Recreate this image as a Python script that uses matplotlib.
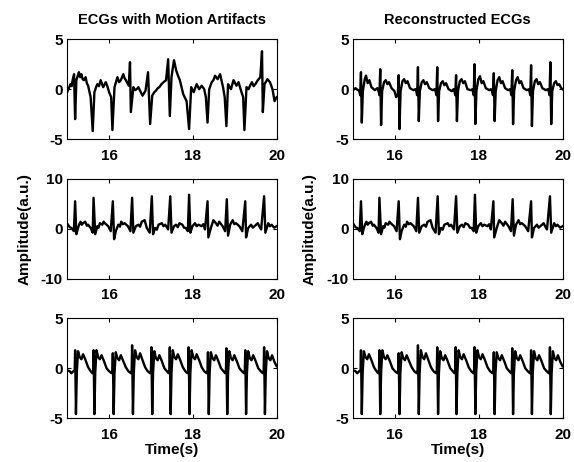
import matplotlib
matplotlib.use("Agg")
import matplotlib.pyplot as plt

plt.rcParams['font.family'] = ['Liberation Sans', 'DejaVu Sans']
plt.rcParams['font.weight'] = 'bold'
plt.rcParams['font.size'] = 11
plt.rcParams['axes.unicode_minus'] = False

# ECG with motion artifacts (top left)
t_noisy = [15.00, 15.04, 15.08, 15.11, 15.13, 15.165, 15.19, 15.22, 15.25, 15.28, 15.31, 15.34, 15.37,
           15.40, 15.44, 15.47, 15.50, 15.56,
           15.61, 15.65, 15.69, 15.72, 15.76, 15.80, 15.86, 15.92, 15.96, 16.00, 16.05, 16.08, 16.13,
           16.20, 16.24, 16.28, 16.34, 16.37, 16.40, 16.47, 16.50, 16.52, 16.58, 16.62, 16.66, 16.70,
           16.74, 16.80, 16.87, 16.93, 16.98, 17.03, 17.08, 17.12, 17.16, 17.20, 17.25, 17.30, 17.36,
           17.41, 17.45, 17.49, 17.52, 17.55, 17.60, 17.65, 17.69, 17.73, 17.77, 17.85, 17.91, 17.96,
           18.02, 18.09, 18.15, 18.21, 18.27, 18.31, 18.35, 18.39, 18.45, 18.49, 18.53, 18.59, 18.65,
           18.72, 18.76, 18.80, 18.84, 18.88, 18.91, 18.97, 19.04, 19.09, 19.15, 19.20, 19.23, 19.28,
           19.33, 19.37, 19.41, 19.45, 19.49, 19.55, 19.61, 19.65, 19.67, 19.71, 19.78, 19.84, 19.90,
           19.95, 20.00]
y_noisy = [-0.3, 0.1, 0.5, 0.3, 0.9, 1.5, -3.0, 0.9, 1.3, 1.7, 1.2, 1.5, 1.0,
           0.9, 1.2, 0.6, 0.35, -0.8,
           -4.2, -0.3, 0.2, 0.5, 0.3, 0.9, 0.2, 0.7, 0.3, -0.3, -0.8, -4.1, 0.2,
           1.2, 0.7, 0.9, 1.5, 1.1, 0.9, 0.35, 2.7, -2.3, 0.2, -0.1, 0.0, 0.2,
           -0.15, -0.65, -0.15, 1.7, -3.5, -0.65, -0.3, -0.15, 0.1, 0.2, 0.5, 0.7, 0.9,
           3.0, -2.7, 1.2, 2.1, 2.9, 1.9, 1.3, 0.9, 0.2, -0.5, -1.2, -4.0, 0.2,
           -0.3, 0.5, 0.0, 0.35, 0.0, -0.8, -3.35, 0.0, 0.7, 0.9, 1.35, 1.0, 1.5,
           0.2, -0.8, -3.7, 0.5, 0.2, 0.0, 0.9, 0.35, 0.7, -0.15, -0.8, -4.1, 0.2,
           0.0, 0.4, 0.7, 0.3, 0.5, 0.9, 1.2, 3.8, -2.3, 0.5, 1.0, 0.7, 0.0,
           -1.2, -0.8]

# reconstructed ECG (top right)
t_clean = [15.00, 15.06, 15.12,
           15.15, 15.17, 15.19, 15.21, 15.235, 15.28, 15.31, 15.35, 15.39, 15.44, 15.52, 15.58,
           15.61, 15.63, 15.65, 15.67, 15.695, 15.74, 15.78, 15.82, 15.86, 15.92, 15.99, 16.03,
           16.07, 16.09, 16.11, 16.135, 16.18, 16.22, 16.26, 16.30, 16.36, 16.44, 16.49,
           16.51, 16.53, 16.55, 16.57, 16.595, 16.64, 16.68, 16.72, 16.76, 16.82, 16.90, 16.95,
           16.97, 16.99, 17.01, 17.03, 17.055, 17.10, 17.14, 17.18, 17.22, 17.28, 17.36, 17.40,
           17.42, 17.44, 17.46, 17.48, 17.505, 17.55, 17.59, 17.63, 17.67, 17.73, 17.81, 17.85,
           17.86, 17.88, 17.90, 17.92, 17.945, 17.99, 18.03, 18.07, 18.11, 18.17, 18.25, 18.29,
           18.32, 18.34, 18.36, 18.38, 18.405, 18.45, 18.49, 18.53, 18.57, 18.63, 18.70, 18.75,
           18.76, 18.78, 18.80, 18.82, 18.845, 18.89, 18.93, 18.97, 19.01, 19.07, 19.15, 19.20,
           19.21, 19.23, 19.25, 19.27, 19.295, 19.34, 19.38, 19.42, 19.46, 19.52, 19.60, 19.65,
           19.67, 19.69, 19.71, 19.73, 19.755, 19.80, 19.84, 19.88, 19.92, 19.97, 20.00]
y_clean = [-0.1, 0.1, -0.1,
           -0.2, -0.6, 1.7, -3.35, -0.2, 1.0, 1.36, 0.6, 0.9, 0.2, -0.1, 0.1,
           -0.2, -0.6, 2.0, -3.6, -0.2, 0.7, 0.9, 0.5, 0.7, 0.1, -0.2, -0.8,
           -0.5, 1.4, -4.0, -0.2, 0.8, 1.0, 0.6, 0.8, 0.1, -0.1, 0.0,
           -0.2, -0.6, 2.2, -3.2, -0.2, 0.7, 0.9, 0.5, 0.7, 0.1, -0.1, 0.0,
           -0.2, -0.6, 2.2, -3.2, -0.2, 0.6, 0.8, 0.4, 0.6, 0.0, -0.2, 0.0,
           -0.2, -0.6, 1.4, -3.2, -0.2, 0.8, 1.0, 0.6, 0.8, 0.0, -0.1, 0.0,
           -0.2, -0.6, 2.5, -3.5, -0.2, 1.0, 1.3, 0.6, 0.8, 0.1, -0.1, 0.0,
           -0.2, -0.6, 1.6, -3.2, -0.2, 0.9, 1.2, 0.6, 0.8, 0.1, -0.1, 0.0,
           -0.2, -0.6, 1.9, -3.5, -0.2, 0.9, 1.2, 0.6, 0.8, 0.1, -0.1, 0.0,
           -0.2, -0.6, 2.4, -3.7, -0.2, 0.8, 1.0, 0.5, 0.7, 0.1, -0.1, 0.0,
           -0.2, -0.6, 2.7, -3.5, -0.2, 0.6, 0.8, 0.4, 0.5, 0.1, 0.0]

# middle row (same trace both sides)
t_mid = [15.02, 15.06, 15.10, 15.16, 15.19, 15.22, 15.26, 15.29, 15.32, 15.35, 15.38, 15.43, 15.47,
         15.50, 15.56, 15.61, 15.63, 15.67, 15.72, 15.75, 15.78, 15.84, 15.87, 15.90, 15.98, 16.04,
         16.09, 16.12, 16.16, 16.22, 16.26, 16.29, 16.33, 16.37, 16.45, 16.51,
         16.55, 16.58, 16.64, 16.70, 16.74, 16.78, 16.85, 16.90, 16.97,
         17.02, 17.05, 17.10, 17.14, 17.18, 17.26, 17.30, 17.34, 17.41,
         17.46, 17.49, 17.55, 17.60, 17.64, 17.68, 17.75, 17.79, 17.83, 17.88,
         17.91, 17.94, 17.99, 18.05, 18.09, 18.13, 18.21, 18.25, 18.29,
         18.35, 18.37, 18.43, 18.49, 18.55, 18.59, 18.63, 18.71, 18.77,
         18.81, 18.84, 18.89, 18.95, 18.99, 19.03, 19.11, 19.18,
         19.25, 19.27, 19.32, 19.39, 19.43, 19.47, 19.55, 19.59, 19.63,
         19.70, 19.73, 19.80, 19.84, 19.88, 19.94, 20.00]
y_mid = [0.8, 0.3, 0.15, -0.5, 5.5, -1.1, 0.15, 0.9, 1.4, 0.8, 1.1, 1.4, 0.6,
         0.8, 0.15, -0.8, 6.2, -1.1, 0.5, 0.2, 1.1, 0.8, 1.4, 1.1, 0.5, -0.5,
         5.5, -2.1, -0.5, 0.8, 0.4, 1.4, 0.9, 1.1, 0.5, -0.5,
         6.2, -0.8, 0.5, 0.8, 0.4, 1.4, 1.7, 0.15, -0.8,
         6.5, -1.1, 0.15, -0.2, 0.8, 1.1, 0.5, 0.8, -0.15,
         6.5, -0.8, 0.5, 0.8, 0.3, 1.1, 0.8, 0.2, 0.15, -0.5,
         6.8, -0.8, 0.5, 1.1, 0.5, 0.8, 0.5, 0.9, -0.15,
         5.5, -1.75, 0.15, 1.7, 1.1, 0.6, 1.4, 0.5, -0.5,
         5.9, -1.4, 0.8, 1.7, 0.9, 1.1, 0.5, -0.5,
         5.5, -1.75, 0.15, 0.8, 0.2, 0.5, 1.1, 0.4, -0.15,
         6.5, -0.8, 1.1, 0.5, 0.8, 0.2, 0.5]

# bottom row (same trace both sides)
t_bot = [15.00, 15.06, 15.10, 15.15,
         15.18, 15.19, 15.21, 15.23, 15.26, 15.30, 15.34, 15.38, 15.44, 15.50, 15.56, 15.60,
         15.62, 15.63, 15.65, 15.67, 15.70, 15.74, 15.78, 15.82, 15.88, 15.94, 16.00, 16.06,
         16.08, 16.09, 16.11, 16.13, 16.16, 16.20, 16.24, 16.28, 16.34, 16.40, 16.46, 16.52,
         16.54, 16.55, 16.57, 16.59, 16.62, 16.66, 16.70, 16.74, 16.80, 16.86, 16.92, 16.98,
         17.00, 17.01, 17.03, 17.05, 17.08, 17.12, 17.16, 17.20, 17.26, 17.32, 17.38, 17.42,
         17.44, 17.45, 17.47, 17.49, 17.52, 17.56, 17.60, 17.64, 17.70, 17.76, 17.82, 17.87,
         17.89, 17.90, 17.92, 17.94, 17.97, 18.01, 18.05, 18.09, 18.15, 18.21, 18.27, 18.33,
         18.35, 18.36, 18.38, 18.40, 18.43, 18.47, 18.51, 18.55, 18.61, 18.67, 18.73, 18.77,
         18.79, 18.80, 18.82, 18.84, 18.87, 18.91, 18.95, 18.99, 19.05, 19.11, 19.17, 19.22,
         19.24, 19.25, 19.27, 19.29, 19.32, 19.36, 19.40, 19.44, 19.50, 19.56, 19.62, 19.67,
         19.69, 19.70, 19.72, 19.74, 19.77, 19.81, 19.85, 19.89, 19.95, 20.00]
y_bot = [-0.2, -0.3, -0.5, -0.3,
         -0.2, 1.8, -4.6, -0.5, 1.7, 1.1, 0.9, 1.4, 0.8, 0.1, -0.3, -0.5,
         -0.2, 1.8, -4.6, -0.5, 1.8, 1.1, 0.9, 1.3, 0.7, 0.0, -0.3, -0.5,
         -0.2, 1.5, -4.6, -0.5, 1.6, 1.0, 0.8, 1.3, 0.7, 0.1, -0.3, -0.5,
         -0.2, 2.3, -4.6, -0.5, 1.8, 1.1, 0.9, 1.5, 0.8, 0.1, -0.3, -0.5,
         -0.2, 2.1, -4.6, -0.5, 1.7, 1.0, 0.8, 1.3, 0.7, 0.0, -0.3, -0.5,
         -0.2, 2.1, -4.6, -0.5, 1.8, 1.1, 0.9, 1.4, 0.8, 0.1, -0.3, -0.5,
         -0.2, 2.1, -4.6, -0.5, 1.8, 1.1, 0.9, 1.4, 0.8, 0.1, -0.3, -0.5,
         -0.2, 1.6, -4.6, -0.5, 1.6, 1.0, 0.8, 1.3, 0.7, 0.0, -0.3, -0.5,
         -0.2, 2.0, -4.6, -0.5, 1.7, 1.0, 0.8, 1.3, 0.7, 0.0, -0.3, -0.5,
         -0.2, 1.8, -4.6, -0.5, 1.7, 1.0, 0.8, 1.3, 0.7, 0.0, -0.3, -0.5,
         -0.2, 2.1, -4.6, -0.5, 1.7, 1.0, 0.8, 1.3, 0.6, 0.2]

titles = ['ECGs with Motion Artifacts', 'Reconstructed ECGs']
xticks = [16, 18, 20]

fig = plt.figure(figsize=(5.74, 4.62), dpi=100)

lefts = [0.117, 0.615]
bottoms = [0.699, 0.397, 0.095]
w, h = 0.365, 0.216

rows = [
    [(t_noisy, y_noisy), (t_clean, y_clean)],
    [(t_mid, y_mid), (t_mid, y_mid)],
    [(t_bot, y_bot), (t_bot, y_bot)],
]
ylims = [5, 10, 5]

for r in range(3):
    for c in range(2):
        ax = fig.add_axes([lefts[c], bottoms[r], w, h])
        t, y = rows[r][c]
        ax.plot(t, y, color='black', lw=1.7)
        lim = ylims[r]
        ax.set_xlim(15, 20)
        ax.set_ylim(-lim, lim)
        ax.set_xticks(xticks)
        ax.set_yticks([-lim, 0, lim])
        ax.tick_params(direction='in', top=True, right=True, length=3,
                       width=0.8, labelsize=11)
        ax.tick_params(axis='x', pad=7)
        ax.tick_params(axis='y', pad=3)
        for s in ax.spines.values():
            s.set_linewidth(0.8)
        for lab in ax.get_xticklabels() + ax.get_yticklabels():
            lab.set_fontweight('bold')
        if r == 0:
            ax.set_title(titles[c], fontsize=10.5, fontweight='bold', pad=11)
        if r == 1:
            ax.set_ylabel('Amplitude(a.u.)', fontsize=11, fontweight='bold', labelpad=7)
        if r == 2:
            ax.set_xlabel('Time(s)', fontsize=11, fontweight='bold', labelpad=1)

fig.savefig('out.png', dpi=100)
